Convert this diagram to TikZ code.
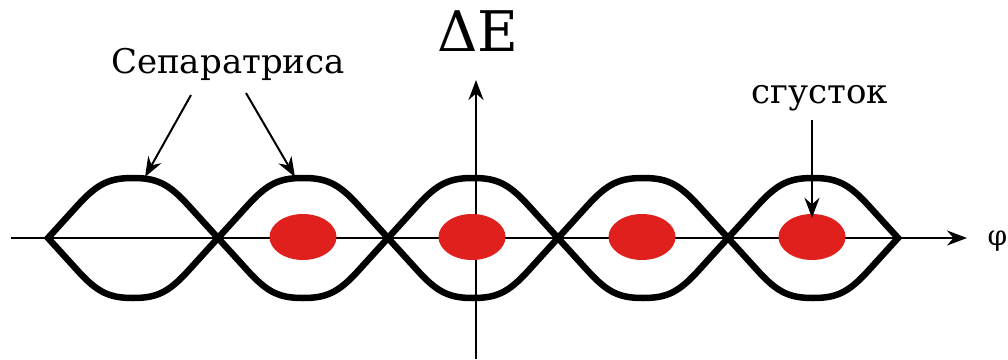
\documentclass[tikz,border=0pt]{standalone}
\usepackage{fontspec}
\setmainfont{DejaVu Serif}
\newfontfamily\labelfont{DejaVu Serif}
\usetikzlibrary{arrows.meta, shapes.geometric}
\definecolor{bunchred}{RGB}{224,32,28}

\begin{document}
\begin{tikzpicture}[x=1pt, y=-1pt, >={Stealth[length=20pt,width=15pt]},
  axis/.style={->, line width=2.4pt},
  sep/.style={line width=6.5pt, line join=miter},
  ptr/.style={->, line width=2pt},
  bunch/.style={ellipse, fill=bunchred, minimum width=67pt, minimum height=46pt, inner sep=0pt},
  lbl/.style={font=\labelfont\fontsize{34}{38}\selectfont}]
  \useasboundingbox (0,0) rectangle (1008,359);
  % axes
  \coordinate (phiL) at (11,238);
  \coordinate (phiR) at (967,238);
  \coordinate (dEB) at (476,359);
  \coordinate (dET) at (476,80);
  \draw[axis] (phiL) -- (phiR);
  \draw[axis] (dEB) -- (dET);
  \node[anchor=west, font=\labelfont\fontsize{28}{30}\selectfont] (phi) at (984,241) {φ};
  \node[font=\labelfont\fontsize{56}{60}\selectfont] (dE) at (478,31) {ΔE};
  % separatrix, one lens per period
  \foreach \x in {48,218,388,558,728}
    \draw[sep, shift={(\x,0)}] (0,238) -- (30,205) .. controls (50,183) and (62,178) .. (85,178)
      .. controls (108,178) and (120,183) .. (140,205) -- (170,238)
      -- (140,271) .. controls (120,293) and (108,298) .. (85,298)
      .. controls (62,298) and (50,293) .. (30,271) -- cycle;
  % bunches
  \node[bunch] (b1) at (303,237) {};
  \node[bunch] (b2) at (472,237) {};
  \node[bunch] (b3) at (642,237) {};
  \node[bunch] (b4) at (812,237) {};
  % labels
  \node[lbl, anchor=base] (sepLbl) at (228,73) {Сепаратриса};
  \node[lbl, anchor=base] (bunchLbl) at (820,103) {сгусток};
  \coordinate (sepT1) at (191,95);
  \coordinate (sepH1) at (145,177);
  \coordinate (sepT2) at (246,93);
  \coordinate (sepH2) at (295,177);
  \coordinate (bunchT) at (812,120);
  \draw[ptr] (sepT1) -- (sepH1);
  \draw[ptr] (sepT2) -- (sepH2);
  \draw[ptr] (bunchT) -- ([yshift=-4pt]b4.north);
\end{tikzpicture}
\end{document}
